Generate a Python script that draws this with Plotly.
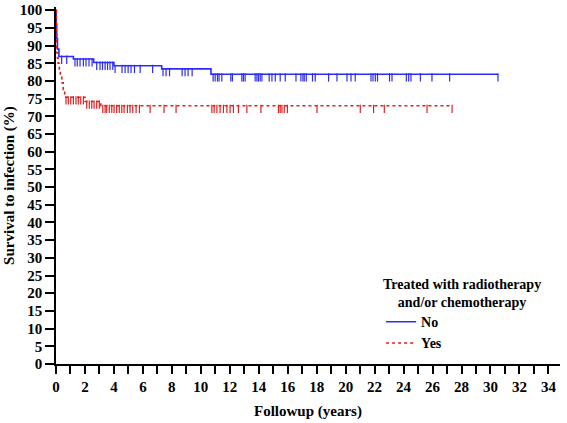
import numpy as np
import plotly.graph_objects as go

# Step curves (years, survival %)
blue_t = [0, 0.02, 0.05, 0.1, 0.2, 1.2, 2.6, 4.0, 7.3, 10.7, 30.52]
blue_s = [100, 96, 92, 89, 86.9, 86.2, 85.2, 84.3, 83.4, 81.9, 81.9]

red_t = [0, 0.02, 0.05, 0.1, 0.15, 0.23, 0.3, 0.4, 0.5, 0.6, 2.0, 3.1, 27.35]
red_s = [100, 94, 88, 86.5, 85, 83, 81.5, 79.5, 77.5, 75.4, 74.2, 73.0, 73.0]

# Censoring times (years)
blue_cens = [0.39, 0.74, 1.31, 1.47, 1.66, 1.89, 2.07, 2.28, 2.49, 2.81, 3.04, 3.21,
             3.39, 3.56, 3.73, 3.92, 4.08, 4.56, 4.77, 4.98, 5.18, 5.42, 5.81, 6.67,
             7.39, 7.60, 7.84, 8.71, 8.91, 9.12, 9.40, 10.85, 10.99, 11.15, 11.26,
             11.45, 12.07, 12.18, 12.83, 12.94, 13.06, 13.75, 13.87, 13.98, 14.10,
             14.22, 14.72, 14.91, 15.14, 15.48, 15.83, 16.57, 16.91, 17.05, 17.14,
             17.28, 17.71, 17.90, 18.82, 19.40, 20.09, 20.37, 20.66, 21.75, 21.89,
             22.05, 22.20, 23.03, 23.20, 24.19, 24.35, 24.51, 25.16, 25.96, 27.18, 30.52]
red_cens = [0.69, 0.85, 1.02, 1.20, 1.38, 1.54, 1.71, 1.89, 2.12, 2.30, 2.47, 2.63,
            2.81, 2.99, 3.23, 3.39, 3.50, 3.68, 3.85, 4.01, 4.19, 4.37, 4.54, 4.70,
            4.93, 5.11, 5.30, 5.53, 5.76, 6.50, 7.46, 8.29, 10.76, 10.92, 11.11,
            11.33, 11.56, 11.80, 12.02, 12.25, 12.60, 13.18, 14.15, 15.36, 15.48,
            15.60, 15.76, 15.98, 18.02, 21.01, 21.93, 22.67, 25.62, 27.35]

group_names = ["No", "Yes"]
legend_title = "Treated with radiotherapy<br>and/or chemotherapy"
x_title = "Followup (years)"
y_title = "Survival to infection (%)"

BLUE = "#2b2bff"
RED = "#e02020"
FONT = "Liberation Serif, Times New Roman, serif"


def step_value(ts, ss, t):
    i = np.searchsorted(np.array(ts), t, side="right") - 1
    return ss[max(i, 0)]


fig = go.Figure()
fig.add_trace(go.Scatter(x=blue_t, y=blue_s, mode="lines", line_shape="hv",
                         line=dict(color=BLUE, width=1.6),
                         name="<b>%s</b>" % group_names[0]))
fig.add_trace(go.Scatter(x=red_t, y=red_s, mode="lines", line_shape="hv",
                         line=dict(color=RED, width=1.6, dash="dot"),
                         name="<b>%s</b>" % group_names[1]))

TICK_OFF = 0.9
fig.add_trace(go.Scatter(
    x=blue_cens, y=[step_value(blue_t, blue_s, t) - TICK_OFF for t in blue_cens],
    mode="markers", marker=dict(symbol="line-ns", size=6,
                                line=dict(color=BLUE, width=1.2)),
    showlegend=False, hoverinfo="skip"))
fig.add_trace(go.Scatter(
    x=red_cens, y=[step_value(red_t, red_s, t) - TICK_OFF for t in red_cens],
    mode="markers", marker=dict(symbol="line-ns", size=6,
                                line=dict(color=RED, width=1.2)),
    showlegend=False, hoverinfo="skip"))

fig.update_layout(
    width=567, height=423,
    margin=dict(l=56, r=7, t=2, b=59),
    paper_bgcolor="white", plot_bgcolor="white",
    font=dict(family=FONT, size=15, color="black"),
    legend=dict(
        x=0.645, y=0.162, xanchor="left", yanchor="top",
        font=dict(family=FONT, size=14),
        bgcolor="rgba(0,0,0,0)", itemwidth=30, tracegroupgap=0,
    ),
    annotations=[dict(
        text="<b>%s</b>" % legend_title, xref="paper", yref="paper",
        x=0.806, y=0.250, xanchor="center", yanchor="top", align="center",
        showarrow=False, font=dict(family=FONT, size=14),
    )],
)
fig.update_xaxes(
    range=[0, 34.8], dtick=2, tick0=0, ticks="outside", ticklen=8, tickwidth=1.5,
    tickcolor="black", showline=True, linecolor="black", linewidth=1.5,
    showgrid=False, zeroline=False, ticklabeloverflow="allow",
    tickfont=dict(family=FONT, size=15),
    tickprefix="<b>", ticksuffix="</b>",
    minor=dict(dtick=1, ticks="outside", ticklen=8, tickwidth=1.5, tickcolor="black", showgrid=False),
    title=dict(text="<b>%s</b>" % x_title, font=dict(family=FONT, size=15), standoff=12),
)
fig.update_yaxes(
    range=[0, 100.9], dtick=5, tick0=0, ticks="outside", ticklen=9, tickwidth=1.5,
    tickcolor="black", showline=True, linecolor="black", linewidth=1.5,
    showgrid=False, zeroline=False, ticklabeloverflow="allow",
    tickfont=dict(family=FONT, size=15),
    tickprefix="<b>", ticksuffix="</b>",
    title=dict(text="<b>%s</b>" % y_title, font=dict(family=FONT, size=15), standoff=2),
)

fig.write_html("out.html", config={"displayModeBar": False},
               post_script="document.body.style.margin='0';")
